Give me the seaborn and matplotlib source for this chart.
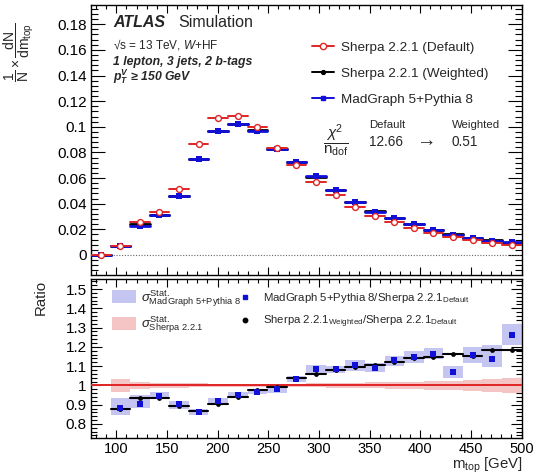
import numpy as np
import pandas as pd
import matplotlib
matplotlib.use("Agg")
import matplotlib.pyplot as plt
import seaborn as sns
from matplotlib.ticker import MultipleLocator, FuncFormatter
from matplotlib.lines import Line2D
from matplotlib.patches import Patch

# ---------------- data ----------------
x_min, x_max, n_bins = 75.0, 500.0, 22
edges = np.linspace(x_min, x_max, n_bins + 1)

sherpa_default = [0.0, 0.0073, 0.0255, 0.0335, 0.0512, 0.0865, 0.1065, 0.1083, 0.1000, 0.0837, 0.0701,
                  0.0571, 0.0467, 0.0378, 0.0307, 0.0255, 0.0213, 0.0171, 0.0143, 0.0114, 0.0096, 0.0080]
sherpa_weighted = [0.0, 0.0068, 0.0238, 0.0312, 0.0458, 0.0748, 0.0966, 0.1019, 0.0974, 0.0829, 0.0726,
                   0.0605, 0.0505, 0.0414, 0.0340, 0.0286, 0.0243, 0.0196, 0.0166, 0.0132, 0.0114, 0.0095]
madgraph = [0.0, 0.0072, 0.0229, 0.0314, 0.0460, 0.0746, 0.0969, 0.1021, 0.0966, 0.0826, 0.0722,
            0.0616, 0.0504, 0.0414, 0.0338, 0.0286, 0.0242, 0.0197, 0.0156, 0.0133, 0.0109, 0.0101]

# ratio panel (bins 2..22)
ratio_weighted = [0.875, 0.932, 0.932, 0.894, 0.865, 0.906, 0.941, 0.974, 0.990, 1.036, 1.059,
                  1.082, 1.094, 1.106, 1.122, 1.141, 1.148, 1.163, 1.155, 1.186, 1.186]
ratio_madgraph = [0.885, 0.905, 0.946, 0.901, 0.863, 0.920, 0.951, 0.967, 0.981, 1.033, 1.087,
                  1.083, 1.108, 1.092, 1.134, 1.148, 1.165, 1.071, 1.160, 1.139, 1.260]
mg_band_lo = [0.844, 0.882, 0.929, 0.880, 0.847, 0.900, 0.932, 0.955, 0.962, 1.016, 1.065,
              1.065, 1.073, 1.068, 1.099, 1.117, 1.137, 1.038, 1.117, 1.096, 1.207]
mg_band_hi = [0.934, 0.952, 0.964, 0.920, 0.877, 0.934, 0.966, 0.980, 0.999, 1.050, 1.107,
              1.100, 1.130, 1.117, 1.155, 1.177, 1.195, 1.103, 1.200, 1.212, 1.316]
sherpa_band_halfwidth = [0.032, 0.018, 0.014, 0.012, 0.010, 0.009, 0.008, 0.008, 0.008, 0.009, 0.010,
                         0.011, 0.013, 0.015, 0.017, 0.019, 0.022, 0.025, 0.029, 0.033, 0.038]

legend_labels = ["Sherpa 2.2.1 (Default)", "Sherpa 2.2.1 (Weighted)", "MadGraph 5+Pythia 8"]
chi2_default, chi2_weighted = "12.66", "0.51"

# ---------------- style ----------------
sns.set_theme(style="ticks")
plt.rcParams["font.family"] = ["Liberation Sans", "DejaVu Sans"]
plt.rcParams["mathtext.fontset"] = "custom"
plt.rcParams["mathtext.rm"] = "Liberation Sans"
plt.rcParams["mathtext.it"] = "Liberation Sans:italic"
plt.rcParams["mathtext.bf"] = "Liberation Sans:italic:bold"
plt.rcParams["axes.linewidth"] = 1.0
plt.rcParams["axes.edgecolor"] = "black"

RED = "#e02424"
BLUE = "#1010d8"
BLUE_BAND = "#c5c5f2"
RED_BAND = "#f5c4c4"

W, H = 542, 474
fig = plt.figure(figsize=(W / 100, H / 100), dpi=100)
fx = lambda x: x / W
fy = lambda y: 1 - y / H

ax = fig.add_axes([fx(91), fy(275), fx(521.5) - fx(91), fy(5) - fy(275)])
axr = fig.add_axes([fx(91), fy(438), fx(521.5) - fx(91), fy(279) - fy(438)])

lo = edges[:-1]
hi = edges[1:]
centers = 0.5 * (lo + hi)
bw = edges[1] - edges[0]


def seg_frame(values, lo_e, hi_e):
    rows = []
    for i, v in enumerate(values):
        rows.append({"x": lo_e[i], "y": v, "bin": i})
        rows.append({"x": hi_e[i], "y": v, "bin": i})
    return pd.DataFrame(rows)


# ---------------- top panel ----------------
ax.axhline(0, color="0.4", lw=0.8, ls=(0, (1, 1.5)), zorder=1)
for vals, col, lw, z in [(sherpa_weighted, "black", 2.0, 2),
                         (madgraph, BLUE, 2.0, 3),
                         (sherpa_default, RED, 1.4, 4)]:
    sns.lineplot(data=seg_frame(vals, lo, hi), x="x", y="y", units="bin", estimator=None,
                 color=col, lw=lw, ax=ax, zorder=z, legend=False)
sns.scatterplot(x=centers, y=sherpa_weighted, ax=ax, color="black", s=9, linewidth=0, zorder=5)
sns.scatterplot(x=centers, y=madgraph, ax=ax, color=BLUE, marker="s", s=14, linewidth=0, zorder=6)
sns.scatterplot(x=centers, y=sherpa_default, ax=ax, facecolor="white", edgecolor=RED, marker="o",
                s=18, linewidth=1.0, zorder=7)

ax.set_xlim(x_min, x_max)
ax.set_ylim(-0.0156, 0.195)
ax.set_xlabel("")
ax.set_ylabel("")
ax.yaxis.set_major_locator(MultipleLocator(0.02))
ax.yaxis.set_minor_locator(MultipleLocator(0.004))
ax.xaxis.set_major_locator(MultipleLocator(50))
ax.xaxis.set_minor_locator(MultipleLocator(10))
ax.yaxis.set_major_formatter(FuncFormatter(lambda v, p: "%g" % round(v, 4)))
ax.tick_params(axis="both", which="both", direction="in", top=True, right=True, colors="black",
               labelsize=11)
ax.tick_params(axis="x", which="major", length=6, width=0.8, labelbottom=False)
ax.tick_params(axis="x", which="minor", length=3, width=0.8)
ax.tick_params(axis="y", which="major", length=10, width=0.8, pad=3)
ax.tick_params(axis="y", which="minor", length=5, width=0.8)

handles = [Line2D([], [], color=RED, lw=1.4, marker="o", mfc="white", mec=RED, ms=4.5),
           Line2D([], [], color="black", lw=1.4, marker="o", ms=2.8),
           Line2D([], [], color=BLUE, lw=1.4, marker="s", ms=3.5)]
ax.legend(handles, legend_labels, loc="upper left", bbox_to_anchor=(fx(312), fy(41.5)),
          bbox_transform=fig.transFigure, frameon=False, fontsize=9.7, handlelength=1.65,
          handletextpad=0.5, labelspacing=1.0, borderpad=0, borderaxespad=0)

fig.text(fx(113), fy(27), "ATLAS", fontsize=11.5, fontweight="bold", fontstyle="italic")
fig.text(fx(178), fy(27), "Simulation", fontsize=11.5)
fig.text(fx(113), fy(48), "\u221as = 13 TeV, $W$+HF", fontsize=8.5)
fig.text(fx(113), fy(64.5), "1 lepton, 3 jets, 2 b-tags", fontsize=8.8, fontweight="bold",
         fontstyle="italic")
fig.text(fx(113), fy(80.5), r"$\mathbf{p}_{\mathbf{T}}^{\mathbf{V}}$" + " \u2265 150 GeV",
         fontsize=8.8, fontweight="bold", fontstyle="italic")

fig.text(fx(336), fy(141), r"$\dfrac{\chi^{2}}{\mathrm{n}_{\mathrm{dof}}}$", fontsize=11,
         ha="center", va="center")
fig.text(fx(369), fy(128), "Default", fontsize=8.2)
fig.text(fx(452), fy(128), "Weighted", fontsize=8.2)
fig.text(fx(369), fy(146), chi2_default, fontsize=9.8)
fig.text(fx(426), fy(142), "\u2192", fontsize=14, ha="center", va="center")
fig.text(fx(452), fy(146), chi2_weighted, fontsize=9.8)

fig.text(fx(19), fy(82), r"$\dfrac{1}{\mathrm{N}}\times\dfrac{\mathrm{dN}}{\mathrm{dm}_{\mathrm{top}}}$",
         rotation=90, rotation_mode="anchor", ha="left", va="center", fontsize=10)

# ---------------- ratio panel ----------------
rlo = lo[1:]
rhi = hi[1:]
rcen = centers[1:]
sh_lo = [1 - h for h in sherpa_band_halfwidth]
sh_h = [2 * h for h in sherpa_band_halfwidth]
axr.bar(rlo, sh_h, bottom=sh_lo, width=bw, align="edge", color=RED_BAND, lw=0, zorder=1)
axr.bar(rlo, np.array(mg_band_hi) - np.array(mg_band_lo), bottom=mg_band_lo, width=bw,
        align="edge", color=BLUE_BAND, lw=0, zorder=2)
axr.axhline(1.0, color=RED, lw=1.4, zorder=3)
sns.lineplot(data=seg_frame(ratio_weighted, rlo, rhi), x="x", y="y", units="bin", estimator=None,
             color="black", lw=1.5, ax=axr, zorder=4, legend=False)
sns.scatterplot(x=rcen, y=ratio_weighted, ax=axr, color="black", s=12, linewidth=0, zorder=5)
sns.scatterplot(x=rcen, y=ratio_madgraph, ax=axr, color=BLUE, marker="s", s=14, linewidth=0, zorder=6)

axr.set_xlim(x_min, x_max)
axr.set_ylim(0.727, 1.552)
axr.set_xlabel("")
axr.set_ylabel("")
axr.yaxis.set_major_locator(MultipleLocator(0.1))
axr.yaxis.set_minor_locator(MultipleLocator(0.02))
axr.xaxis.set_major_locator(MultipleLocator(50))
axr.xaxis.set_minor_locator(MultipleLocator(10))
axr.yaxis.set_major_formatter(FuncFormatter(lambda v, p: "%g" % round(v, 3)))
axr.xaxis.set_major_formatter(FuncFormatter(lambda v, p: "%g" % v))
axr.tick_params(axis="both", which="both", direction="in", top=True, right=True, colors="black",
                labelsize=11)
axr.tick_params(axis="x", which="major", length=6, width=0.8, pad=3, labelsize=10.5)
axr.tick_params(axis="x", which="minor", length=3, width=0.8)
axr.tick_params(axis="y", which="major", length=8, width=0.8, pad=3)
axr.tick_params(axis="y", which="minor", length=4, width=0.8)

band_handles = [Patch(facecolor=BLUE_BAND, edgecolor="none"), Patch(facecolor=RED_BAND, edgecolor="none")]
band_labels = [r"$\sigma^{\mathrm{Stat.}}_{\mathrm{MadGraph\ 5{+}Pythia\ 8}}$",
               r"$\sigma^{\mathrm{Stat.}}_{\mathrm{Sherpa\ 2.2.1}}$"]
leg1 = axr.legend(band_handles, band_labels, loc="upper left", bbox_to_anchor=(fx(112), fy(288)),
                  bbox_transform=fig.transFigure, frameon=False, fontsize=9.5, handlelength=1.8,
                  handleheight=1.15, handletextpad=0.4, labelspacing=0.45, borderpad=0, borderaxespad=0)
axr.add_artist(leg1)
pt_handles = [Line2D([], [], ls="none", marker="s", color=BLUE, ms=3.5),
              Line2D([], [], ls="none", marker="o", color="black", ms=3.2)]
pt_labels = [r"MadGraph 5+Pythia 8/Sherpa 2.2.1$_{\mathrm{Default}}$",
             r"Sherpa 2.2.1$_{\mathrm{Weighted}}$/Sherpa 2.2.1$_{\mathrm{Default}}$"]
axr.legend(pt_handles, pt_labels, loc="upper left", bbox_to_anchor=(fx(238), fy(291)),
           bbox_transform=fig.transFigure, frameon=False, fontsize=8.2, handlelength=1.3,
           handletextpad=0.9, labelspacing=0.75, borderpad=0, borderaxespad=0)

fig.text(fx(41), fy(280), "Ratio", rotation=90, ha="center", va="top", fontsize=10.8)
fig.text(fx(523), fy(465), r"m$_{\mathrm{top}}$ [GeV]", ha="right", va="center", fontsize=10.8)

fig.savefig("out.png", dpi=100)
